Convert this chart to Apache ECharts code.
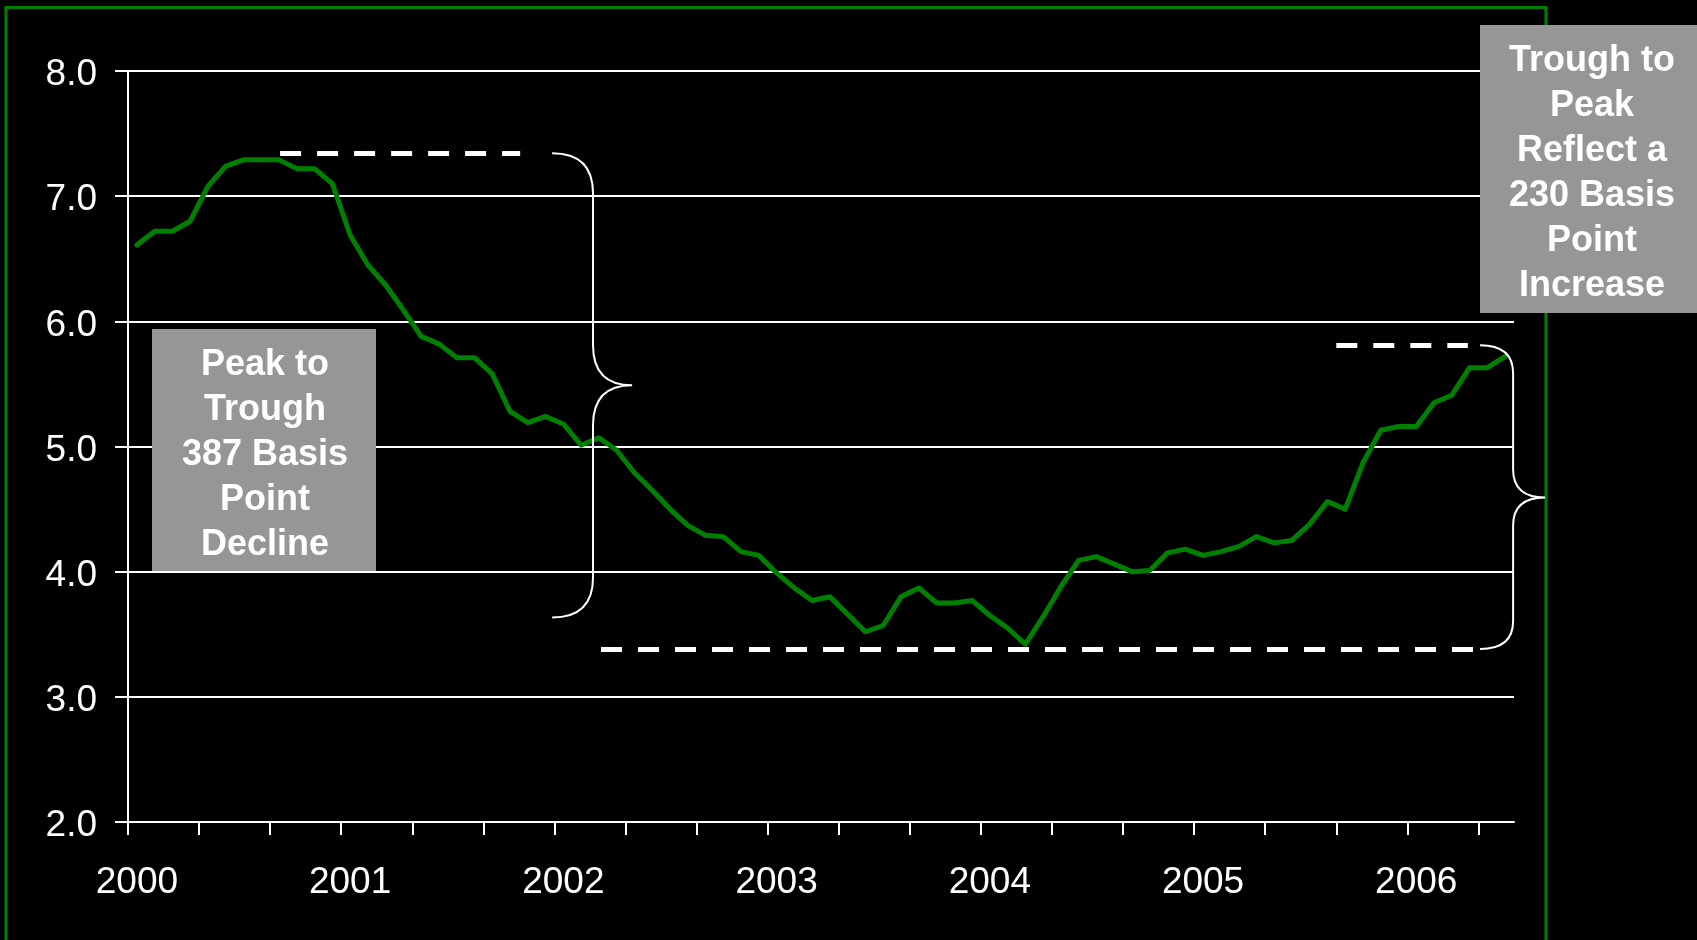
<!DOCTYPE html>
<html>
<head>
<meta charset="utf-8">
<title>Rates 2000-2006</title>
<script src="https://cdn.jsdelivr.net/npm/echarts@6/dist/echarts.min.js"></script>
<style>
  html, body { margin: 0; padding: 0; background: #000; }
  #chart { width: 1697px; height: 940px; }
</style>
</head>
<body>
<div id="chart"></div>
<script>
// Monthly observations, January 2000 through June 2006
const yearLabels = ['2000', '2001', '2002', '2003', '2004', '2005', '2006'];
const months = [];
for (let i = 0; i < 78; i++) {
  months.push(yearLabels[Math.floor(i / 12)] + '-' + String(i % 12 + 1).padStart(2, '0'));
}
const rates = [
  6.61, 6.72, 6.72, 6.80, 7.08, 7.24, 7.29, 7.29, 7.29, 7.22,
  7.22, 7.10, 6.69, 6.45, 6.29, 6.09, 5.88, 5.82, 5.71, 5.71,
  5.58, 5.28, 5.19, 5.24, 5.18, 5.01, 5.07, 4.97, 4.79, 4.65,
  4.50, 4.37, 4.29, 4.28, 4.16, 4.13, 3.99, 3.87, 3.77, 3.80,
  3.66, 3.52, 3.57, 3.80, 3.87, 3.75, 3.75, 3.77, 3.65, 3.55,
  3.42, 3.64, 3.88, 4.09, 4.12, 4.06, 4.00, 4.01, 4.15, 4.18,
  4.13, 4.16, 4.20, 4.28, 4.23, 4.25, 4.38, 4.56, 4.50, 4.87,
  5.13, 5.16, 5.16, 5.35, 5.41, 5.63, 5.63, 5.72
];
const yTicks = [2, 3, 4, 5, 6, 7, 8];

// Levels marked by the dashed guides (peak, trough, latest high)
const peakLevel = 7.342;
const troughLevel = 3.382;
const recentLevel = 5.809;

// Axis positions are month indexes; each month sits at the centre of its slot
const monthTicks = [];
for (let i = 0; i <= 76; i += 4) monthTicks.push(i);
const yearPositions = yearLabels.map((_, i) => i * 12 + 0.5);

// Curly braces spanning each move: x = [outer end, spine, tip], y = [top, tip, bottom]
const braces = [
  { x: [23.87, 26.17, 28.37], y: [peakLevel, 5.49, 3.634], r: 40 },
  { x: [76.09, 77.95, 79.75], y: [recentLevel, 4.592, troughLevel], r: 28 }
];

const chart = echarts.init(document.getElementById('chart'), null, { renderer: 'canvas' });

const FONT = '"Liberation Sans", Arial, sans-serif';
const white = '#ffffff';

chart.setOption({
  backgroundColor: '#000000',
  animation: false,
  textStyle: { fontFamily: FONT },
  grid: { left: 128, right: 183, top: 71, bottom: 118, containLabel: false },
  xAxis: {
    type: 'value',
    min: 0,
    max: months.length,
    splitLine: { show: false },
    axisLine: { show: true, lineStyle: { color: white, width: 2 } },
    axisTick: {
      show: true,
      inside: false,
      length: 13,
      customValues: monthTicks,
      lineStyle: { color: white, width: 2 }
    },
    axisLabel: {
      show: true,
      customValues: yearPositions,
      margin: 42,
      color: white,
      fontSize: 37,
      fontFamily: FONT,
      formatter: (v) => yearLabels[Math.round((v - 0.5) / 12)]
    }
  },
  yAxis: {
    type: 'value',
    min: yTicks[0],
    max: yTicks[yTicks.length - 1],
    interval: 1,
    axisLine: { show: true, lineStyle: { color: white, width: 2 } },
    axisTick: { show: true, inside: false, length: 13, lineStyle: { color: white, width: 2 } },
    splitLine: { show: true, lineStyle: { color: white, width: 2 } },
    axisLabel: {
      margin: 31,
      color: white,
      fontSize: 37,
      fontFamily: FONT,
      formatter: (v) => '{v|' + v.toFixed(1) + '}',
      rich: {
        v: { color: white, fontSize: 37, fontFamily: FONT, padding: [8, 0, 0, 0] }
      }
    }
  },
  series: [
    {
      name: 'Rate',
      type: 'line',
      data: rates.map((v, i) => [i + 0.5, v]),
      showSymbol: false,
      symbol: 'none',
      z: 3,
      lineStyle: { color: '#008000', width: 5, join: 'round', cap: 'round' },
      markLine: {
        silent: true,
        symbol: ['none', 'none'],
        label: { show: false },
        lineStyle: { color: white, width: 5, type: [21, 16], cap: 'butt' },
        emphasis: { disabled: true },
        data: [
          [{ coord: [8.56, peakLevel] }, { coord: [22.07, peakLevel] }],
          [{ coord: [26.62, troughLevel] }, { coord: [75.92, troughLevel] }],
          [{ coord: [68.0, recentLevel] }, { coord: [75.4, recentLevel] }]
        ]
      }
    },
    {
      name: 'Braces',
      type: 'custom',
      clip: false,
      silent: true,
      z: 4,
      data: braces.map((b) => [b.x[0], b.y[0]]),
      renderItem: function (params, api) {
        const b = braces[params.dataIndex];
        const top = api.coord([b.x[0], b.y[0]]);
        const mid = api.coord([b.x[2], b.y[1]]);
        const bot = api.coord([b.x[0], b.y[2]]);
        const xs = api.coord([b.x[1], b.y[1]])[0];
        const xl = top[0], xt = mid[0];
        const yt = top[1], ym = mid[1], yb = bot[1];
        const r = b.r;
        const d = [
          'M', xl, yt,
          'Q', xs, yt, xs, yt + r,
          'L', xs, ym - r,
          'Q', xs, ym, xt, ym,
          'Q', xs, ym, xs, ym + r,
          'L', xs, yb - r,
          'Q', xs, yb, xl, yb
        ].join(' ');
        return {
          type: 'path',
          shape: { pathData: d },
          style: { fill: 'none', stroke: white, lineWidth: 2 }
        };
      }
    }
  ],
  graphic: [
    {
      type: 'rect',
      z: 1,
      silent: true,
      shape: { x: 6, y: 7.5, width: 1540, height: 1100 },
      style: { fill: 'none', stroke: '#008000', lineWidth: 3 }
    },
    {
      type: 'rect',
      z: 20,
      silent: true,
      shape: { x: 152, y: 329, width: 224, height: 242 },
      style: { fill: '#969696' }
    },
    {
      type: 'text',
      z: 21,
      silent: true,
      style: {
        text: 'Peak to\nTrough\n387 Basis\nPoint\nDecline',
        x: 265, y: 455,
        align: 'center', verticalAlign: 'middle',
        font: 'bold 36px ' + FONT,
        lineHeight: 45,
        fill: white,
        shadowColor: 'rgba(0,0,0,0.9)', shadowOffsetX: 2, shadowOffsetY: 2, shadowBlur: 1
      }
    },
    {
      type: 'rect',
      z: 20,
      silent: true,
      shape: { x: 1480, y: 25, width: 230, height: 288 },
      style: { fill: '#969696' }
    },
    {
      type: 'text',
      z: 21,
      silent: true,
      style: {
        text: 'Trough to\nPeak\nReflect a\n230 Basis\nPoint\nIncrease',
        x: 1592, y: 174,
        align: 'center', verticalAlign: 'middle',
        font: 'bold 36px ' + FONT,
        lineHeight: 45,
        fill: white,
        shadowColor: 'rgba(0,0,0,0.9)', shadowOffsetX: 2, shadowOffsetY: 2, shadowBlur: 1
      }
    }
  ]
});
</script>
</body>
</html>
